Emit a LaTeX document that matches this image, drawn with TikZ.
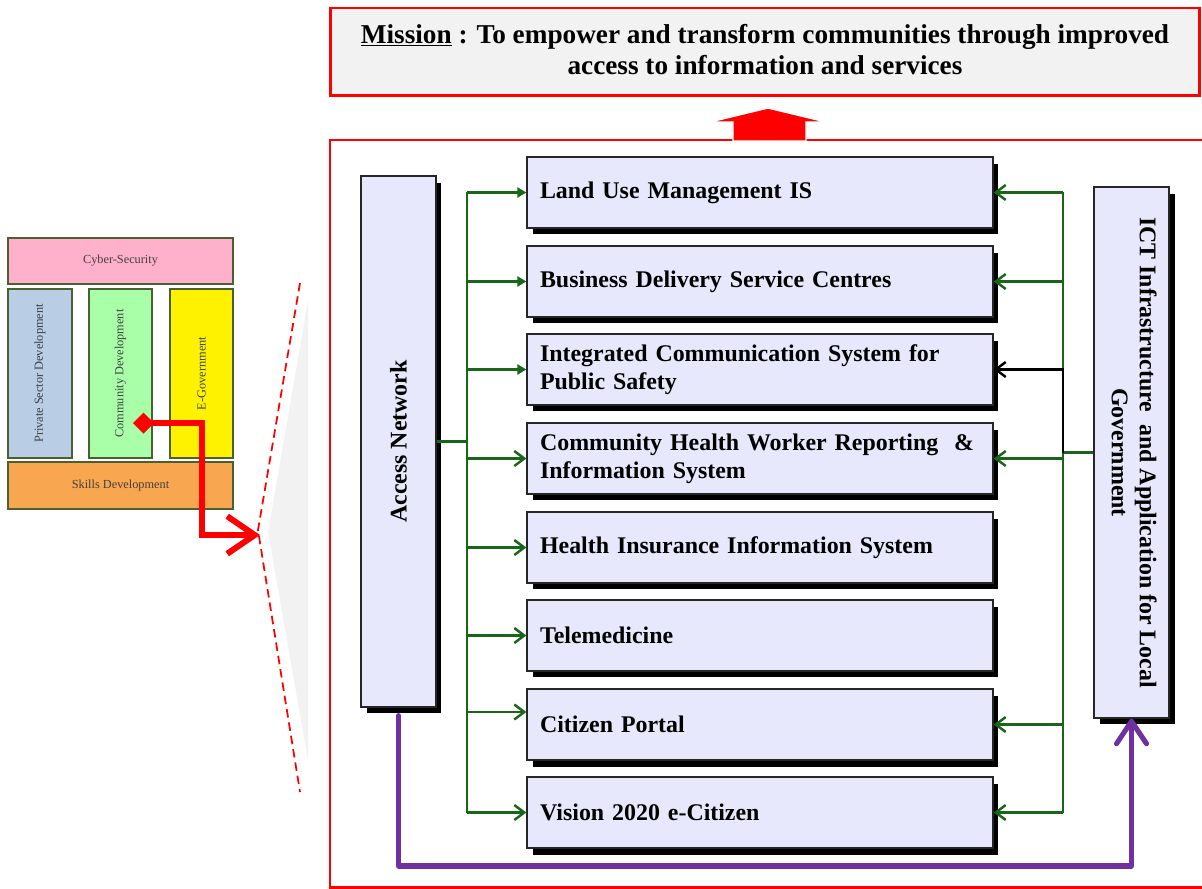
\documentclass[tikz,border=0pt]{standalone}
\usepackage{fontspec}
\setmainfont{Liberation Serif}
\usetikzlibrary{arrows.meta,shadows}
\definecolor{boxfill}{HTML}{E8E8FC}
\definecolor{feedgreen}{HTML}{186618}
\definecolor{linkpurple}{HTML}{7030A0}
\definecolor{missionfill}{HTML}{F2F2F2}
\definecolor{pillarline}{HTML}{4A6030}
\definecolor{cyberpink}{HTML}{FFB0CB}
\definecolor{privblue}{HTML}{B9CDE5}
\definecolor{commgreen}{HTML}{A8FFA8}
\definecolor{skillorange}{HTML}{F9A650}
\tikzset{
boxshadow/.style={drop shadow={shadow xshift=0.11cm, shadow yshift=-0.13cm, fill=black, opacity=1}},
sysbox/.style={draw=black!85, line width=0.8pt, fill=boxfill, boxshadow, minimum height=1.42cm, text width=8.8cm, inner xsep=0.26cm, align=left, font=\fontsize{13.6}{16}\selectfont\bfseries},
sidebox/.style={draw=black!85, line width=0.8pt, fill=boxfill, boxshadow, minimum width=1.5cm, minimum height=10.62cm, inner sep=0pt, font=\fontsize{13.6}{16}\selectfont\bfseries},
pillar/.style={draw=pillarline, line width=0.6pt, text=black!75, inner sep=0pt, font=\fontsize{7}{8}\selectfont},
feed/.style={draw=feedgreen, line width=1.4pt},
feedtip/.style={feed, -{Straight Barb[length=0.2cm,width=0.3cm]}},
feedhead/.style={feed, -{Triangle[length=0.18cm,width=0.2cm]}},
link/.style={draw=linkpurple, line width=2.9pt, line cap=round, line join=round, -{Straight Barb[length=0.45cm,width=0.6cm,round]}},
zoomarrow/.style={draw=red, line width=3.4pt, {Diamond[length=0.42cm,width=0.42cm]}-{Straight Barb[length=0.55cm,width=0.75cm]}}
}
\begin{document}
\begin{tikzpicture}[x=0.02cm, y=-0.02cm]
    \useasboundingbox (0,0) rectangle (1202,888);

    \node[pillar, fill=cyberpink, minimum width=4.5cm, minimum height=0.92cm] (cyber) at (120.5,261) {Cyber-Security};
    \node[pillar, fill=privblue, minimum width=1.28cm, minimum height=3.38cm] (priv) at (40,373.5) {\rotatebox{90}{Private Sector Development}};
    \node[pillar, fill=commgreen, minimum width=1.26cm, minimum height=3.38cm] (comm) at (120.5,373.5) {\rotatebox{90}{Community Development}};
    \node[pillar, fill=yellow, minimum width=1.26cm, minimum height=3.38cm] (egov) at (201.5,373.5) {\rotatebox{90}{E-Government}};
    \node[pillar, fill=skillorange, minimum width=4.5cm, minimum height=0.94cm] (skills) at (120.5,485.5) {Skills Development};

    \fill[missionfill] (308,301) -- (268,532) -- (308,760) -- cycle;
    \draw[red, line width=1pt, dash pattern=on 0.17cm off 0.1cm] (300,283) -- (258,530) -- (300,792);
    \coordinate (cdmark) at (133,423);
    \coordinate (zoomtip) at (260,535);
    \draw[zoomarrow] (cdmark) -| (202,535) -- (zoomtip);

    \node[draw=red, line width=1.7pt, fill=missionfill, minimum width=17.4cm, minimum height=1.76cm, align=center, font=\fontsize{15.5}{17.6}\selectfont\bfseries] (mission) at (765,52)
      {\underline{Mission} : To empower and transform communities through improved\\access to information and services\rule[-1.2mm]{0pt}{1mm}};
    \draw[red, line width=1.7pt] (330,140) rectangle (1215,887);
    \draw[white, line width=0.8pt, fill=red] (733,141) -- (733,122) -- (710,122) -- (768,108) -- (826,122) -- (806,122) -- (806,141) -- cycle;

    \node[sidebox] (an) at (398.5,441.5) {\rotatebox{90}{Access Network}};
    \node[sidebox] (ict) at (1131.5,452.5) {\rotatebox{-90}{\begin{tabular}{@{}c@{}}ICT Infrastructure \ and Application for Local\\Government\end{tabular}}};

    \node[sysbox] (lum) at (760,192.5) {Land Use Management IS};
    \node[sysbox] (bds) at (760,281.5) {Business Delivery Service Centres};
    \node[sysbox] (ics) at (760,369.5) {Integrated Communication System for\\Public Safety};
    \node[sysbox] (chw) at (760,458.5) {Community Health Worker Reporting \ \&\\Information System};
    \node[sysbox] (his) at (760,547.5) {Health Insurance Information System};
    \node[sysbox] (tel) at (760,635.5) {Telemedicine};
    \node[sysbox] (cp) at (760,724.5) {Citizen Portal};
    \node[sysbox] (vis) at (760,812.5) {Vision 2020 e-Citizen};

    \coordinate (lbus) at (467,0);
    \coordinate (rbus) at (1063,0);
    \draw[feed] (an.east) -- (an.east -| lbus);
    \draw[feed] (lbus |- lum) -- (lbus |- vis);
    \draw[feedhead] (lbus |- lum) -- (lum.west);
    \draw[feedhead] (lbus |- bds) -- (bds.west);
    \draw[feedhead] (lbus |- ics) -- (ics.west);
    \draw[feedtip] (lbus |- chw) -- (chw.west);
    \draw[feedtip] (lbus |- his) -- (his.west);
    \draw[feedtip] (lbus |- tel) -- (tel.west);
    \draw[feedtip] ([yshift=0.25cm]lbus |- cp) -- ([yshift=0.25cm]cp.west);
    \draw[feedtip] (lbus |- vis) -- (vis.west);

    \draw[feed] (ict.west) -- (ict.west -| rbus);
    \draw[feed] (rbus |- lum) -- (rbus |- vis);
    \draw[feedtip] (rbus |- lum) -- (lum.east);
    \draw[feedtip] (rbus |- bds) -- (bds.east);
    \draw[feedtip] (rbus |- chw) -- (chw.east);
    \draw[feedtip] (rbus |- cp) -- (cp.east);
    \draw[feedtip] (rbus |- vis) -- (vis.east);
    \draw[feedtip, draw=black] (ict.west -| rbus) -- (rbus |- ics) -- (ics.east);

    \coordinate (pbase) at (0,866);
    \draw[link, shorten <=0.16cm] (an.south) -- (an.south |- pbase) -- (ict.south |- pbase) -- (ict.south);
\end{tikzpicture}
\end{document}
